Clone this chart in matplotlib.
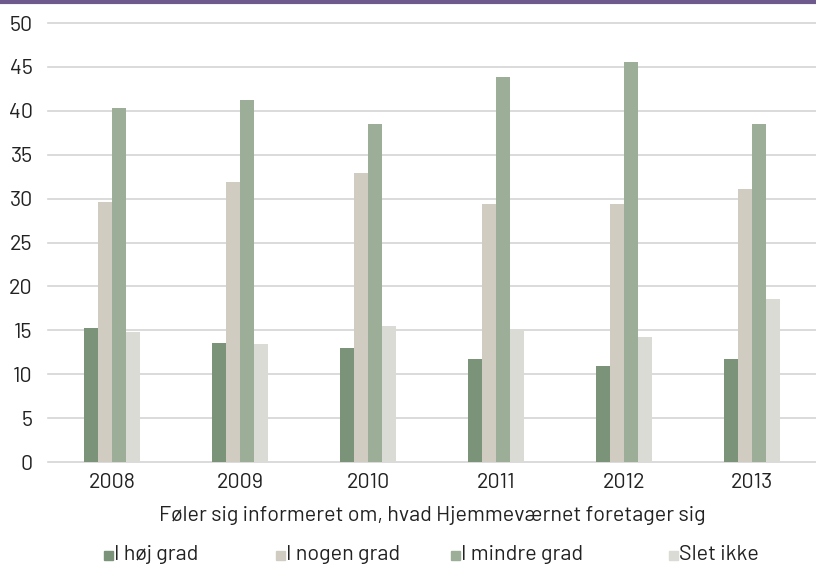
import numpy as np
import matplotlib
matplotlib.use("Agg")
import matplotlib.pyplot as plt
from matplotlib.patches import Rectangle
from matplotlib.lines import Line2D

plt.rcParams["font.family"] = ["Barlow", "DejaVu Sans"]
plt.rcParams["font.weight"] = "normal"

years = ["2008", "2009", "2010", "2011", "2012", "2013"]
series_names = ["I høj grad", "I nogen grad", "I mindre grad", "Slet ikke"]
hoej = [15.3, 13.5, 13.0, 11.7, 10.9, 11.7]
nogen = [29.6, 31.9, 32.9, 29.4, 29.4, 31.1]
mindre = [40.3, 41.2, 38.5, 43.8, 45.6, 38.5]
slet = [14.8, 13.4, 15.5, 15.0, 14.2, 18.6]
xlabel = "Føler sig informeret om, hvad Hjemmeværnet foretager sig"

colors = ["#7A9379", "#D0CCC2", "#9DAE98", "#D9DBD4"]
_GRID = "#D4D4D4"
_TEXT = "#222222"
FS = 15.5

fig = plt.figure(figsize=(8.16, 5.64), dpi=100)
ax = fig.add_axes([48 / 816, 1 - 462 / 564, 1 - 48 / 816, (462 - 23) / 564])

x = np.arange(len(years))
width = 0.111
all_series = [hoej, nogen, mindre, slet]
for i, vals in enumerate(all_series):
    ax.bar(x + (i - 1.5) * width, vals, width=width, color=colors[i],
           edgecolor="none", zorder=3, label=series_names[i])

ax.set_xlim(-0.5, len(years) - 0.5)
ax.set_ylim(0, 50)
ax.set_yticks(range(0, 51, 5))
ax.yaxis.grid(True, color=_GRID, linewidth=1.2, zorder=0)
for gl in ax.get_ygridlines():
    gl.set_clip_on(False)
for s in ax.spines.values():
    s.set_visible(False)
ax.tick_params(axis="both", length=0, labelsize=FS, colors=_TEXT, pad=8)
ax.tick_params(axis="y", pad=11)
ax.set_xticks(x)
ax.set_xticklabels(years)
ax.set_xlabel(xlabel, fontsize=FS, color=_TEXT, labelpad=10)

# legend drawn by hand to match spacing
leg_x = [104, 276, 451, 669]
leg_y = 555
for px, name, c in zip(leg_x, series_names, colors):
    fig.patches.append(Rectangle((px / 816, 1 - (leg_y + 4.5) / 564), 9 / 816, 9 / 564,
                                 transform=fig.transFigure, color=c))
    fig.text((px + 10) / 816, 1 - 560 / 564, name, fontsize=FS, color=_TEXT,
             va="baseline", ha="left")

# purple rule along the top
fig.add_artist(Line2D([0, 1], [1 - 1.5 / 564, 1 - 1.5 / 564], transform=fig.transFigure,
                      color="#6E5A8C", linewidth=3))

fig.savefig("out.png", dpi=100)
